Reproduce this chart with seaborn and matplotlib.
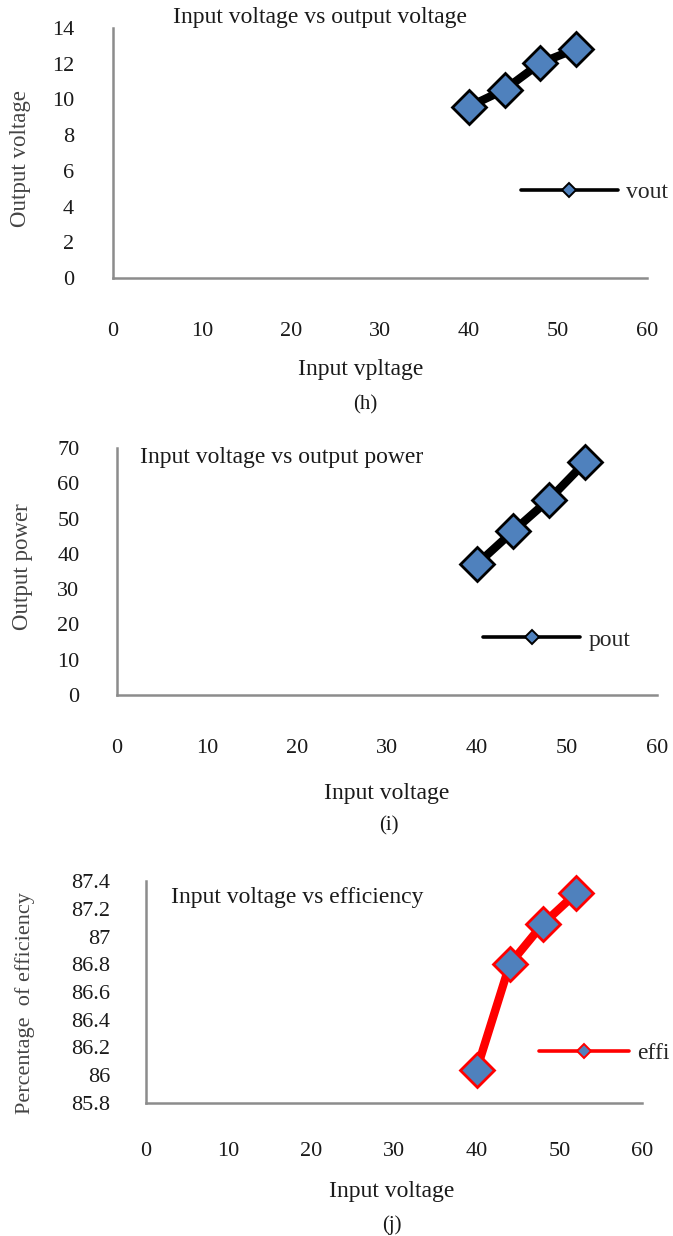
import pandas as pd
import seaborn as sns
import matplotlib.pyplot as plt
from matplotlib.lines import Line2D
from matplotlib.ticker import FuncFormatter


# =========================================================
# DATA
# =========================================================

input_voltage = [40, 44, 48, 52]
vout = [9.6, 10.55, 12.03, 12.83]
pout = [37.1, 46.4, 55.4, 65.9]
effi = [86.04, 86.8, 87.09, 87.31]

x_ticks = [0, 10, 20, 30, 40, 50, 60]
vout_ticks = [0, 2, 4, 6, 8, 10, 12, 14]
pout_ticks = [0, 10, 20, 30, 40, 50, 60, 70]
effi_ticks = [85.8, 86.0, 86.2, 86.4, 86.6, 86.8, 87.0, 87.2, 87.4]

W, H = 673, 1236
BLUE = "#4F81BD"
SPINE = "#8c8c8c"
TEXT = "#1a1a1a"
LABEL = "#444444"


def fx(x):
    return x / W


def fy(y):
    return 1 - y / H


def rect(left, top, right, bottom):
    return [fx(left), fy(bottom), (right - left) / W, (bottom - top) / H]


sns.set_theme(style="white")
plt.rcParams["font.family"] = ["Liberation Serif", "DejaVu Serif"]

fig = plt.figure(figsize=(W / 100, H / 100), dpi=100)


def panel(box, y, yticks, ylim, line_color, edge_color, label,
          xpad, ypad, leg_anchor, leg_len=4.1):
    ax = fig.add_axes(rect(*box))
    df = pd.DataFrame({"x": input_voltage, "y": y})
    sns.lineplot(data=df, x="x", y="y", ax=ax, color=line_color, lw=6,
                 marker="D", markersize=17, markerfacecolor=BLUE,
                 markeredgecolor=edge_color, markeredgewidth=2,
                 legend=False, zorder=3, clip_on=False)
    ax.set_xlim(0, 60)
    ax.set_ylim(*ylim)
    ax.set_xticks(x_ticks)
    ax.set_yticks(yticks)
    ax.yaxis.set_major_formatter(FuncFormatter(lambda v, p: f"{v:g}"))
    ax.tick_params(axis="x", length=0, pad=xpad, labelsize=16, colors=TEXT)
    ax.tick_params(axis="y", length=0, pad=ypad, labelsize=16, colors=TEXT)
    for s in ["top", "right"]:
        ax.spines[s].set_visible(False)
    for s in ["left", "bottom"]:
        ax.spines[s].set_color(SPINE)
        ax.spines[s].set_linewidth(1.8)
    ax.set_xlabel("")
    ax.set_ylabel("")
    handle = Line2D([], [], color=line_color, lw=2.6, marker="D",
                    markersize=7.5, markerfacecolor=BLUE,
                    markeredgecolor=edge_color, markeredgewidth=1.4)
    ax.legend([handle], [label], loc="center left", bbox_to_anchor=leg_anchor,
              frameon=False, fontsize=17, handlelength=leg_len,
              handletextpad=0.35, borderpad=0, borderaxespad=0)
    return ax


# (h) Input voltage vs output voltage
panel((113, 28, 647, 278), vout, vout_ticks, (0, 14), "black", "black",
      "vout", 32, 28, (0.764, 0.344))
fig.text(fx(320), fy(17), "Input voltage vs output voltage", ha="center",
         va="center", fontsize=17, color=TEXT)
fig.text(fx(361), fy(369), "Input vpltage", ha="center", va="center",
         fontsize=17, color=TEXT)
fig.text(fx(21), fy(159), "Output voltage", ha="center", va="center",
         rotation=90, fontsize=16.5, color=LABEL)
fig.text(fx(365), fy(405), "(h)", ha="center", va="center", fontsize=15,
         color=TEXT)

# (i) Input voltage vs output power
panel((117, 448, 657, 695), pout, pout_ticks, (0, 70), "black", "black",
      "pout", 32, 27, (0.678, 0.223))
fig.text(fx(140), fy(458), "Input voltage vs output power", ha="left",
         va="center", fontsize=17, color=TEXT)
fig.text(fx(387), fy(793), "Input voltage", ha="center", va="center",
         fontsize=17, color=TEXT)
fig.text(fx(23), fy(567), "Output power", ha="center", va="center",
         rotation=90, fontsize=16.5, color=LABEL)
fig.text(fx(389), fy(826), "(i)", ha="center", va="center", fontsize=15,
         color=TEXT)

# (j) Input voltage vs efficiency
panel((146, 881, 642, 1103), effi, effi_ticks, (85.8, 87.4), "#ff0000",
      "#ff0000", "effi", 28, 26, (0.792, 0.225), leg_len=3.8)
fig.text(fx(171), fy(897), "Input voltage vs efficiency", ha="left",
         va="center", fontsize=17, color=TEXT)
fig.text(fx(392), fy(1192), "Input voltage", ha="center", va="center",
         fontsize=17, color=TEXT)
fig.text(fx(25), fy(1003), "Percentage  of efficiency", ha="center",
         va="center", rotation=90, fontsize=16, color=LABEL)
fig.text(fx(392), fy(1225), "(j)", ha="center", va="center", fontsize=15,
         color=TEXT)

fig.savefig("out.png", dpi=100)
